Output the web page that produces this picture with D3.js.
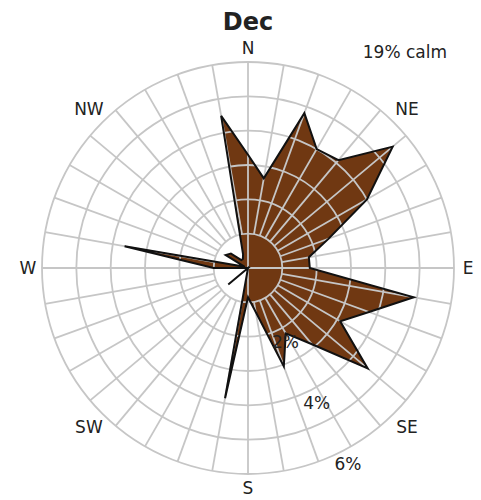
<!doctype html>
<html>
<head>
  <script src="https://cdnjs.cloudflare.com/ajax/libs/d3/7.8.5/d3.min.js"></script>
  <style>
    body { margin: 0; background: #fff; }
    text { font-family: "DejaVu Sans", sans-serif; fill: #222; }
  </style>
</head>
<body>
<svg id="rose" width="481" height="500"></svg>
<script>
// wind direction (degrees from north) and frequency in percent
var directions = [0, 10, 20, 30, 40, 50, 60, 70, 80, 90, 100, 110,
                  120, 130, 140, 150, 160, 170, 180, 190, 200, 210, 220, 230,
                  240, 250, 260, 270, 280, 290, 300, 310, 320, 330, 340, 350];
var percents = [3.3, 2.65, 4.8, 4.0, 4.1, 5.5, 4.0, 2.5, 1.8, 1.8, 4.9, 3.75,
                3.1, 4.55, 2.9, 2.2, 3.05, 1.3, 0.85, 3.85, 0, 0, 0, 0.75,
                0, 0, 0, 1.0, 3.65, 0.1, 0.75, 0.65, 0.3, 0.3, 0.42, 4.5];
var rings = [1, 2, 3, 4, 5, 6];
var ringLabels = [2, 4, 6];
var compass = ["N", "NE", "E", "SE", "S", "SW", "W", "NW"];
var compassAngles = [0, 45, 90, 135, 180, 225, 270, 315];
var title = "Dec";
var calm = 19;

var cx = 248, cy = 268, R = 206;
var svg = d3.select("#rose");
var g = svg.append("g").attr("transform", "translate(" + cx + "," + cy + ")");

var r = d3.scaleLinear().domain([0, 6]).range([0, R]);
var rad = d => d * Math.PI / 180;

var data = directions.map((d, i) => ({dir: d, val: percents[i]}));

var rose = d3.lineRadial()
    .angle(d => rad(d.dir))
    .radius(d => r(d.val))
    .curve(d3.curveLinearClosed);

// filled rose first, grid over it, outline on top
g.append("path")
    .datum(data)
    .attr("d", rose)
    .style("fill", "#703812")
    .style("stroke", "none");

var grid = g.append("g").style("stroke", "#c6c6c6").style("stroke-width", 1.8).style("fill", "none");

grid.selectAll("circle")
    .data(rings)
    .enter()
    .append("circle")
    .attr("r", d => r(d));

grid.selectAll("line.spoke")
    .data(directions)
    .enter()
    .append("line")
    .attr("class", "spoke")
    .attr("x1", d => Math.sin(rad(d)) * (d % 90 == 0 ? 0 : r(1)))
    .attr("y1", d => -Math.cos(rad(d)) * (d % 90 == 0 ? 0 : r(1)))
    .attr("x2", d => Math.sin(rad(d)) * r(6))
    .attr("y2", d => -Math.cos(rad(d)) * r(6));

g.append("path")
    .datum(data)
    .attr("d", rose)
    .style("fill", "none")
    .style("stroke", "#111")
    .style("stroke-width", 2)
    .style("stroke-linejoin", "miter");

// ring labels along the SSE line
g.selectAll("text.ring")
    .data(ringLabels)
    .enter()
    .append("text")
    .attr("class", "ring")
    .attr("x", d => Math.sin(rad(153)) * (r(d) + 14))
    .attr("y", d => -Math.cos(rad(153)) * (r(d) + 14))
    .attr("text-anchor", "middle")
    .attr("dominant-baseline", "central")
    .style("font-size", "17px")
    .text(d => d + "%");

g.selectAll("text.compass")
    .data(compassAngles)
    .enter()
    .append("text")
    .attr("class", "compass")
    .attr("x", d => Math.sin(rad(d)) * (R + (d % 90 == 0 ? 14 : 19)))
    .attr("y", d => -Math.cos(rad(d)) * (R + (d % 90 == 0 ? 14 : 19)))
    .attr("text-anchor", "middle")
    .attr("dominant-baseline", "central")
    .style("font-size", "17px")
    .text((d, i) => compass[i]);

svg.append("text")
    .attr("x", 248)
    .attr("y", 22)
    .attr("text-anchor", "middle")
    .attr("dominant-baseline", "central")
    .style("font-size", "24px")
    .style("font-weight", "bold")
    .text(title);

svg.append("text")
    .attr("x", 447)
    .attr("y", 52)
    .attr("text-anchor", "end")
    .attr("dominant-baseline", "central")
    .style("font-size", "17px")
    .text(calm + "% calm");
</script>
</body>
</html>
